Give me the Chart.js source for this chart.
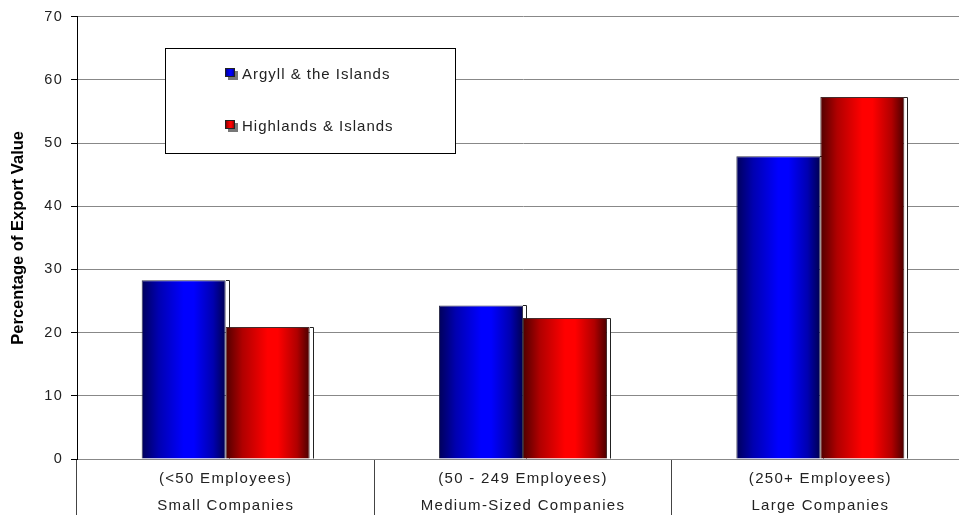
<!DOCTYPE html>
<html>
<head>
<meta charset="utf-8">
<script src="https://cdn.jsdelivr.net/npm/chart.js@4/dist/chart.umd.min.js"></script>
<style>
  html, body { margin: 0; padding: 0; background: #fff; overflow: hidden; }
  #wrap { position: absolute; left: 0; top: 0; width: 975px; height: 515px; }
</style>
</head>
<body>
<div id="wrap"><canvas id="exportChart" width="975" height="515"></canvas></div>
<script>
// Share of export value by company size
var employeeBands = ['(<50 Employees)', '(50 - 249 Employees)', '(250+ Employees)'];
var companySizes = ['Small Companies', 'Medium-Sized Companies', 'Large Companies'];
var argyllValues = [28.3, 24.3, 47.9];
var highlandsValues = [20.9, 22.3, 57.3];
var seriesNames = ['Argyll & the Islands', 'Highlands & Islands'];
var yTicks = [0, 10, 20, 30, 40, 50, 60, 70];

var CAT_PCT = 0.565;
var TEXT_SPACING = '1.3px';
var shades = [
  { dark: '#00005a', mid: '#0000b0', bright: '#0000ff', end: '#000050' },
  { dark: '#500000', mid: '#b00000', bright: '#ff0000', end: '#4a0000' }
];

// horizontal "cylinder" shading across each bar
function shadeFor(c, left, w, s) {
  var g = c.createLinearGradient(left, 0, left + w, 0);
  g.addColorStop(0, s.dark);
  g.addColorStop(0.2, s.mid);
  g.addColorStop(0.5, s.bright);
  g.addColorStop(0.62, s.bright);
  g.addColorStop(0.85, s.mid);
  g.addColorStop(1, s.end);
  return g;
}

function barFill(ctx) {
  var chart = ctx.chart;
  var s = shades[ctx.datasetIndex];
  var xs = chart.scales.x;
  if (!xs || !chart.chartArea) return s.bright;
  var catW = xs.width / employeeBands.length;
  var w = catW * CAT_PCT / 2;
  var centre = xs.getPixelForValue(ctx.dataIndex);
  var left = ctx.datasetIndex === 0 ? centre - w : centre;
  return shadeFor(chart.ctx, left, w, s);
}

// wide tracking for tick labels, normal tracking for the axis title
var spacingPlugin = {
  id: 'spacing',
  beforeDraw: function (chart) {
    chart.ctx.letterSpacing = TEXT_SPACING;
    var ys = chart.scales.y;
    if (ys && !ys._titleWrapped) {
      var orig = ys.drawTitle;
      ys.drawTitle = function () {
        chart.ctx.letterSpacing = '0px';
        orig.apply(this, arguments);
        chart.ctx.letterSpacing = TEXT_SPACING;
      };
      ys._titleWrapped = true;
    }
  }
};

// thin back face to the right of every bar
var depthPlugin = {
  id: 'depth',
  beforeDatasetsDraw: function (chart) {
    var c = chart.ctx;
    c.save();
    chart.data.datasets.forEach(function (ds, i) {
      chart.getDatasetMeta(i).data.forEach(function (bar) {
        var p = bar.getProps(['x', 'y', 'base', 'width'], true);
        var r = Math.round(p.x + p.width / 2);
        var top = Math.round(p.y) + 0.5;
        c.fillStyle = '#fff';
        c.fillRect(r, top, 3, p.base - top);
        c.strokeStyle = '#222';
        c.lineWidth = 1;
        c.beginPath();
        c.moveTo(r, top);
        c.lineTo(r + 3.5, top);
        c.lineTo(r + 3.5, p.base);
        c.stroke();
      });
    });
    c.restore();
  }
};

// boxed legend inside the plot
var boxLegend = {
  id: 'boxLegend',
  afterDraw: function (chart) {
    var c = chart.ctx;
    c.save();
    c.fillStyle = '#fff';
    c.fillRect(165.5, 48.5, 290, 105);
    c.strokeStyle = '#000';
    c.lineWidth = 1;
    c.strokeRect(165.5, 48.5, 290, 105);
    c.font = '15px "Liberation Sans", Arial, sans-serif';
    c.letterSpacing = '1px';
    c.textBaseline = 'middle';
    c.textAlign = 'left';
    seriesNames.forEach(function (name, i) {
      var y = i === 0 ? 74 : 126;
      c.fillStyle = '#777';
      c.fillRect(228, y - 3, 10, 9);
      c.fillStyle = shadeFor(c, 225, 10, shades[i]);
      c.fillRect(225, y - 6, 10, 9);
      c.strokeStyle = '#222';
      c.strokeRect(225.5, y - 5.5, 9, 8);
      c.fillStyle = '#222';
      c.fillText(name, 242, y + 1);
    });
    c.restore();
  }
};

var labels = employeeBands.map(function (band, i) { return [band, companySizes[i]]; });

new Chart(document.getElementById('exportChart'), {
  type: 'bar',
  data: {
    labels: labels,
    datasets: [
      { label: seriesNames[0], data: argyllValues, backgroundColor: barFill,
        borderColor: 'rgba(30,30,60,0.9)', borderWidth: 1,
        categoryPercentage: CAT_PCT, barPercentage: 1 },
      { label: seriesNames[1], data: highlandsValues, backgroundColor: barFill,
        borderColor: 'rgba(50,20,20,0.9)', borderWidth: 1,
        categoryPercentage: CAT_PCT, barPercentage: 1 }
    ]
  },
  options: {
    responsive: false,
    animation: false,
    layout: { padding: { top: 15, right: 6, left: 0, bottom: 0 } },
    plugins: {
      legend: { display: false },
      tooltip: { enabled: false }
    },
    scales: {
      x: {
        afterFit: function (s) { s.height = 56; },
        grid: { drawOnChartArea: false, offset: true, tickLength: 56, color: '#444', lineWidth: 1 },
        border: { color: '#888', width: 1 },
        ticks: {
          padding: -50,
          color: '#222',
          font: { family: '"Liberation Sans", Arial, sans-serif', size: 15, lineHeight: 1.8 }
        }
      },
      y: {
        min: 0,
        max: 70,
        afterFit: function (s) { s.width = 77; },
        afterBuildTicks: function (s) { s.ticks = yTicks.map(function (v) { return { value: v }; }); },
        grid: { color: '#888', tickColor: '#000', tickLength: 6 },
        border: { color: '#000', width: 1 },
        ticks: {
          padding: 8,
          color: '#222',
          font: { family: '"Liberation Sans", Arial, sans-serif', size: 14.5 }
        },
        title: {
          display: true,
          text: 'Percentage of Export Value',
          color: '#000',
          padding: { top: 9, bottom: 0 },
          font: { family: '"Liberation Sans", Arial, sans-serif', size: 16.5, weight: 'bold' }
        }
      }
    }
  },
  plugins: [spacingPlugin, depthPlugin, boxLegend]
});
</script>
</body>
</html>
